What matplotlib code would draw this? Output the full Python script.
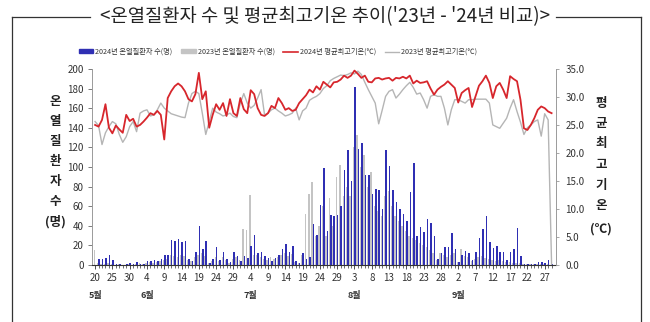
import numpy as np
import matplotlib
matplotlib.use("Agg")
import matplotlib.pyplot as plt
from matplotlib.lines import Line2D
from matplotlib.patches import Patch

plt.rcParams['font.family'] = ['Noto Sans CJK KR', 'DejaVu Sans']

# daily values, 5/20 ~ 9/29
patients_2024 = [
    0, 6, 6, 7, 10, 5, 1, 1, 0, 1,
    2, 1, 3, 1, 1, 4, 4, 5, 4, 6,
    10, 10, 25, 24, 27, 23, 24, 6, 4, 13,
    40, 16, 24, 2, 6, 18, 5, 13, 6, 3,
    13, 9, 4, 9, 7, 19, 31, 12, 13, 9,
    7, 4, 7, 10, 16, 21, 13, 19, 4, 2,
    12, 6, 8, 42, 31, 61, 99, 35, 51, 50,
    51, 60, 97, 117, 86, 182, 118, 124, 92, 92,
    72, 78, 77, 57, 117, 101, 77, 64, 57, 52,
    45, 74, 104, 30, 39, 34, 47, 43, 30, 6,
    12, 18, 18, 33, 16, 3, 10, 14, 12, 5,
    13, 28, 37, 50, 23, 17, 19, 13, 13, 5,
    13, 16, 38, 9, 1, 1, 1, 1, 3, 3,
    2, 5, 1,
]
patients_2023 = [
    15, 2, 1, 1, 2, 1, 0, 1, 0, 0,
    1, 0, 1, 2, 1, 2, 3, 2, 3, 4,
    5, 6, 10, 9, 8, 10, 9, 5, 4, 8,
    10, 12, 9, 2, 4, 8, 4, 8, 5, 2,
    6, 8, 5, 37, 36, 71, 10, 10, 8, 6,
    5, 8, 6, 8, 10, 12, 9, 11, 3, 2,
    10, 52, 72, 85, 30, 40, 60, 30, 68, 40,
    90, 102, 70, 80, 70, 120, 133, 100, 112, 80,
    95, 60, 55, 50, 70, 75, 60, 50, 45, 40,
    35, 30, 28, 25, 22, 20, 18, 15, 12, 5,
    12, 10, 8, 10, 12, 3, 16, 9, 8, 4,
    6, 8, 9, 7, 6, 5, 4, 5, 4, 3,
    3, 2, 2, 2, 1, 1, 1, 1, 1, 1,
    1, 1, 0,
]
temp_2024 = [
    25.0, 24.7, 25.9, 28.7, 24.5, 23.5, 24.9, 24.2, 23.6, 26.8,
    25.7, 26.1, 24.7, 25.0, 25.6, 26.3, 27.1, 26.8, 27.5, 26.8,
    22.4, 29.8, 31.0, 31.9, 32.4, 31.9, 31.0, 29.6, 29.2, 30.5,
    34.3, 29.6, 31.0, 24.5, 26.8, 28.7, 27.7, 28.9, 26.6, 29.6,
    27.1, 26.6, 29.8, 27.8, 27.1, 31.2, 30.5, 28.0, 26.8, 26.6,
    27.1, 28.4, 28.0, 29.8, 28.9, 27.7, 28.0, 27.5, 27.7, 28.9,
    29.6, 30.3, 31.3, 30.8, 31.9, 31.3, 32.7, 32.2, 31.7, 32.6,
    32.7, 33.1, 33.8, 33.4, 33.8, 34.7, 34.1, 33.4, 33.8, 32.7,
    32.6, 33.3, 33.4, 33.1, 33.3, 33.4, 32.9, 33.4, 33.3, 33.6,
    33.3, 33.8, 32.4, 32.9, 32.5, 32.6, 32.8, 31.5, 30.4, 31.3,
    31.8, 32.2, 32.8, 32.2, 31.6, 29.0, 30.7, 31.2, 31.6, 28.2,
    30.1, 32.0, 32.8, 33.8, 32.5, 29.8, 31.9, 32.5, 31.3, 29.8,
    33.7, 33.2, 32.8, 29.5, 24.4, 24.1, 25.0, 26.2, 27.7, 28.3,
    28.0, 27.4, 27.1,
]
temp_2023 = [
    25.6, 24.9, 21.5, 23.6, 24.7, 25.6, 25.2, 23.3, 21.9, 22.9,
    24.7, 25.6, 23.8, 27.1, 27.5, 27.7, 26.6, 26.8, 27.7, 28.9,
    28.0, 27.5, 27.0, 26.8, 26.6, 26.4, 26.3, 28.9, 30.6, 31.0,
    30.6, 27.1, 23.3, 25.6, 28.0, 27.3, 27.0, 26.6, 26.8, 27.1,
    26.5, 26.3, 28.9, 30.6, 28.9, 28.0, 28.5, 29.8, 31.3, 26.8,
    27.1, 27.7, 28.0, 27.5, 27.1, 26.6, 26.8, 27.1, 28.0, 25.9,
    27.5, 28.0, 29.4, 29.8, 30.1, 30.6, 31.5, 32.0, 32.9, 33.3,
    33.6, 33.9, 33.8, 34.0, 34.3, 34.1, 34.6, 34.0, 32.6, 31.3,
    30.1, 28.9, 25.2, 27.6, 30.1, 31.0, 31.3, 29.8, 30.5, 31.3,
    32.0, 32.6, 31.7, 30.5, 30.7, 29.5, 28.0, 30.1, 30.4, 30.1,
    30.1, 28.0, 25.0, 27.7, 29.5, 29.5, 29.2, 28.9, 29.5, 29.5,
    29.6, 29.6, 29.6, 29.6, 28.9, 25.0, 24.7, 24.4, 25.3, 26.2,
    28.0, 29.5, 27.4, 25.5, 23.3, 24.5, 25.0, 25.6, 25.9, 23.0,
    27.0, 25.9, 0.0,
]

tick_labels = ['20', '25', '30', '4', '9', '14', '19', '24', '29', '4', '9', '14', '19',
               '24', '29', '3', '8', '13', '18', '23', '28', '2', '7', '12', '17', '22', '27']
month_labels = ['5월', '6월', '7월', '8월', '9월']
month_start = [0, 15, 45, 75, 105]   # day index under which each month name sits

days = np.arange(len(patients_2024))

fig = plt.figure(figsize=(6.5, 3.22), dpi=100)
ax = fig.add_axes([0.1415, 0.177, 0.7135, 0.609])
ax2 = ax.twinx()

ax.bar(days - 0.22, patients_2023, width=0.45, color='#c4c4c4', zorder=2)
ax.bar(days + 0.15, patients_2024, width=0.45, color='#2f2fb3', zorder=3)

ax2.plot(days, temp_2023, color='#b5b5b5', lw=1.0, zorder=4)
ax2.plot(days, temp_2024, color='#d7262c', lw=1.3, zorder=5)

ax.set_xlim(-0.9, 133.2)
ax.set_ylim(0, 200)
ax2.set_ylim(0, 35)
ax.set_yticks(np.arange(0, 201, 20))
ax2.set_yticks(np.arange(0, 36, 5))
ax2.set_yticklabels([f'{v:.1f}' for v in np.arange(0, 36, 5)])

ax.set_xticks(np.arange(0, 131, 5))
ax.set_xticklabels(tick_labels)
ax.set_xticks(days, minor=True)

ax.spines['top'].set_visible(False)
ax2.spines['top'].set_visible(False)
ax.spines['right'].set_visible(False)
ax2.spines['left'].set_visible(False)
ax2.spines['bottom'].set_visible(False)
ax.spines['left'].set_color('#9a9a9a')
ax.spines['left'].set_linewidth(0.7)
ax2.spines['right'].set_color('#9a9a9a')
ax2.spines['right'].set_linewidth(0.7)
ax.spines['bottom'].set_color('#333333')
ax.spines['bottom'].set_linewidth(0.8)

ax.tick_params(axis='y', direction='out', length=3, width=0.6, color='#666666',
               labelsize=7, labelcolor='#333333', pad=3)
ax2.tick_params(axis='y', direction='out', length=2, width=0.6, color='#999999',
                labelsize=7, labelcolor='#333333', pad=5)
ax.tick_params(axis='x', which='major', direction='out', length=3, width=0.6,
               color='#333333', labelsize=7, labelcolor='#333333', pad=3)
ax.tick_params(axis='x', which='minor', direction='out', length=2, width=0.5,
               color='#333333')

for d, name in zip(month_start, month_labels):
    ax.text(d, -0.155, name, transform=ax.get_xaxis_transform(), ha='center',
            va='center', fontsize=6.5, color='#333333', fontweight='bold')

# stacked axis titles
for i, ch in enumerate(['온', '열', '질', '환', '자', '수', '(명)']):
    fig.text(55 / 650, 1 - (101 + i * 20.2) / 322, ch, ha='center', va='center',
             fontsize=9, fontweight='bold', color='#222222')
for i, ch in enumerate(['평', '균', '최', '고', '기', '온', '(℃)']):
    fig.text(601 / 650, 1 - (103 + i * 20.5 + (3 if i == 6 else 0)) / 322, ch,
             ha='center', va='center', fontsize=9, fontweight='bold', color='#222222')

# title with frame
fig.text(0.5, 1 - 17 / 322, "<온열질환자 수 및 평균최고기온 추이('23년 - '24년 비교)>",
         ha='center', va='center', fontsize=13.5, fontweight='medium', color='#222222')
frame_kw = dict(color='#333333', lw=0.9, transform=fig.transFigure, clip_on=False)
fig.add_artist(Line2D([12 / 650, 90 / 650], [1 - 17 / 322] * 2, **frame_kw))
fig.add_artist(Line2D([556 / 650, 641 / 650], [1 - 17 / 322] * 2, **frame_kw))
fig.add_artist(Line2D([12 / 650] * 2, [1 - 17 / 322, 0], **frame_kw))
fig.add_artist(Line2D([641 / 650] * 2, [1 - 17 / 322, 0], **frame_kw))

handles = [
    Patch(color='#2f2fb3', label='2024년 온열질환자 수(명)'),
    Patch(color='#c4c4c4', label='2023년 온열질환자 수(명)'),
    Line2D([], [], color='#d7262c', lw=1.2, label='2024년 평균최고기온(℃)'),
    Line2D([], [], color='#b5b5b5', lw=1.0, label='2023년 평균최고기온(℃)'),
]
fig.legend(handles=handles, loc='center', bbox_to_anchor=(278 / 650, 1 - 52 / 322),
           ncol=4, frameon=False, fontsize=5.2, handlelength=2.0, handleheight=0.5,
           handletextpad=0.3, columnspacing=1.2, labelcolor='#333333')

fig.savefig('out.png', dpi=100)
